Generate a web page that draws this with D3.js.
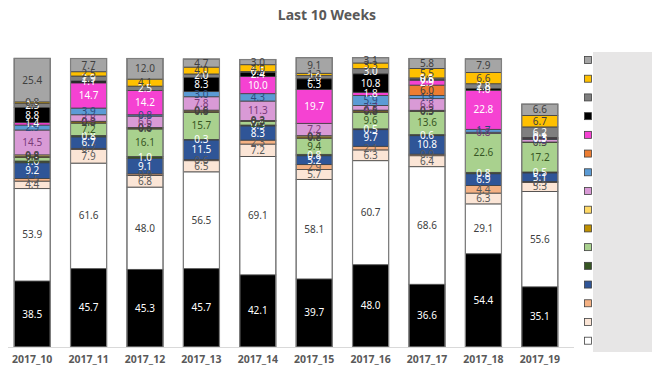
<!DOCTYPE html>
<html>
<head>
<meta charset="utf-8">
<script src="https://cdn.jsdelivr.net/npm/d3@7"></script>
<style>
  body { margin: 0; background: #fff; }
  svg { font-family: 'Noto Sans', sans-serif; }
</style>
</head>
<body>
<svg id="chart" width="660" height="374"></svg>
<script>
const weeks = ['2017_10', '2017_11', '2017_12', '2017_13', '2017_14', '2017_15', '2017_16', '2017_17', '2017_18', '2017_19'];

// series values, bottom of the stack first
const base = [38.5, 45.7, 45.3, 45.7, 42.1, 39.7, 48.0, 36.6, 54.4, 35.1];
const white = [53.9, 61.6, 48.0, 56.5, 69.1, 58.1, 60.7, 68.6, 29.1, 55.6];
const lightPeach = [4.4, 7.9, 6.8, 6.5, 7.2, 5.7, 6.3, 6.4, 6.3, 5.3];
const peach = [1.5, 0.7, 0.9, 0.6, 2.3, 2.9, 2.1, 0.9, 4.4, 0.5];
const darkBlue = [9.2, 6.7, 9.1, 11.5, 8.3, 5.2, 9.7, 10.8, 6.9, 5.1];
const darkGreen = [1.0, 0.8, 1.0, 0.3, 0.5, 0.8, 0.5, 0.6, 0.8, 0.5];
const lightGreen = [2.0, 7.2, 16.1, 15.7, 2.2, 9.4, 9.6, 13.6, 22.6, 17.2];
const darkGold = [0.8, 0.8, 0.6, 0.8, 0.3, 0.8, 0.8, 0.3, 0.0, 0.3];
const lightYellow = [0.8, 0.3, 0.3, 0.6, 0.2, 0.7, 0.5, 0.3, 0.0, 0.0];
const lilac = [14.5, 3.8, 6.6, 7.8, 11.3, 7.2, 2.7, 6.8, 0.8, 1.5];
const lightBlue = [2.9, 3.9, 0.8, 3.0, 4.3, 0.0, 5.9, 1.9, 1.7, 0.5];
const orange = [0.0, 0.0, 0.0, 0.0, 0.0, 0.0, 0.0, 6.0, 0.0, 0.0];
const magenta = [1.4, 14.7, 14.2, 0.0, 10.0, 19.7, 1.8, 2.9, 22.8, 0.3];
const black = [8.8, 1.1, 0.0, 8.3, 2.4, 6.3, 10.8, 0.5, 1.0, 0.3];
const gray = [2.5, 2.9, 2.5, 2.0, 0.5, 2.0, 3.0, 0.8, 2.8, 6.2];
const gold = [0.8, 2.5, 4.1, 4.0, 4.0, 1.2, 3.3, 5.5, 6.6, 6.7];
const lightGray = [25.4, 7.7, 12.0, 4.7, 3.0, 9.1, 3.1, 5.8, 7.9, 6.6];

const seriesNames = ['base', 'white', 'lightPeach', 'peach', 'darkBlue', 'darkGreen', 'lightGreen', 'darkGold',
  'lightYellow', 'lilac', 'lightBlue', 'orange', 'magenta', 'black', 'gray', 'gold', 'lightGray'];
const seriesValues = [base, white, lightPeach, peach, darkBlue, darkGreen, lightGreen, darkGold,
  lightYellow, lilac, lightBlue, orange, magenta, black, gray, gold, lightGray];

const fillColors = ['#000000', '#ffffff', '#fbe5d6', '#f4b183', '#2f5597', '#375623', '#a9d18e', '#bf9000',
  '#ffd966', '#d99ad6', '#5b9bd5', '#ed7d31', '#f542d2', '#000000', '#7f7f7f', '#ffc000', '#a5a5a5'];
const textColors = ['#ffffff', '#404040', '#595959', '#595959', '#ffffff', '#ffffff', '#375623', '#404040',
  '#404040', '#7a3b7a', '#2e4a7a', '#404040', '#ffffff', '#ffffff', '#ffffff', '#404040', '#404040'];

const svg = d3.select('#chart');
const baseline = 347;

const table = weeks.map((w, i) => {
  const row = { week: w };
  seriesNames.forEach((s, j) => { row[s] = seriesValues[j][i]; });
  return row;
});

const stacked = d3.stack().keys(seriesNames)(table);

const xScale = d3.scaleBand()
  .domain(weeks)
  .range([4, 568])
  .paddingInner(0.36)
  .paddingOuter(0.18);

const yScale = d3.scaleLinear()
  .domain([0, 180])
  .range([baseline, baseline - 180 * 1.714]);

svg.append('text')
  .attr('x', 327)
  .attr('y', 20)
  .attr('text-anchor', 'middle')
  .attr('font-size', '14px')
  .attr('font-weight', 'bold')
  .attr('fill', '#595959')
  .text('Last 10 Weeks');

const layers = svg.append('g')
  .selectAll('g')
  .data(stacked)
  .enter()
  .append('g')
  .attr('fill', (d, i) => fillColors[i]);

layers.selectAll('rect')
  .data(d => d)
  .enter()
  .append('rect')
  .attr('x', d => xScale(d.data.week))
  .attr('y', d => yScale(d[1]))
  .attr('width', xScale.bandwidth())
  .attr('height', d => yScale(d[0]) - yScale(d[1]))
  .attr('stroke', '#404040')
  .attr('stroke-width', 0.8);

// outer border of each bar
svg.append('g')
  .selectAll('rect')
  .data(table)
  .enter()
  .append('rect')
  .attr('x', d => xScale(d.week))
  .attr('y', d => yScale(d3.sum(seriesNames, s => d[s])))
  .attr('width', xScale.bandwidth())
  .attr('height', d => baseline - yScale(d3.sum(seriesNames, s => d[s])))
  .attr('fill', 'none')
  .attr('stroke', '#7f7f7f')
  .attr('stroke-width', 1.2);

// value labels
stacked.forEach((layer, i) => {
  svg.append('g')
    .selectAll('text')
    .data(layer.filter(d => d[1] - d[0] > 0))
    .enter()
    .append('text')
    .attr('x', d => xScale(d.data.week) + xScale.bandwidth() / 2)
    .attr('y', d => yScale((d[0] + d[1]) / 2))
    .attr('dy', '0.35em')
    .attr('text-anchor', 'middle')
    .attr('font-size', '10px')
    .attr('fill', textColors[i])
    .text(d => d3.format('.1f')(d[1] - d[0]));
});

// x axis
const xAxis = d3.axisBottom(xScale).tickSize(0).tickPadding(9);
const axisG = svg.append('g')
  .attr('transform', 'translate(0,' + baseline + ')')
  .call(xAxis);
axisG.select('.domain').attr('stroke', '#d9d9d9').attr('d', 'M8,0.5H574');
axisG.selectAll('text')
  .attr('font-size', '10.5px')
  .attr('font-weight', 'bold')
  .attr('fill', '#595959')
  .attr('font-family', "'Noto Sans', sans-serif");

// legend
svg.append('rect')
  .attr('x', 593)
  .attr('y', 52)
  .attr('width', 59)
  .attr('height', 300)
  .attr('fill', '#e7e6e6');

const legendItems = seriesNames.slice(1).reverse();
const legendY = d3.scalePoint()
  .domain(legendItems)
  .range([60, 340.7]);

svg.append('g')
  .selectAll('rect')
  .data(legendItems)
  .enter()
  .append('rect')
  .attr('x', 584.5)
  .attr('y', d => legendY(d) - 3.5)
  .attr('width', 7)
  .attr('height', 7)
  .attr('fill', d => fillColors[seriesNames.indexOf(d)])
  .attr('stroke', '#404040')
  .attr('stroke-width', 0.8);
</script>
</body>
</html>
